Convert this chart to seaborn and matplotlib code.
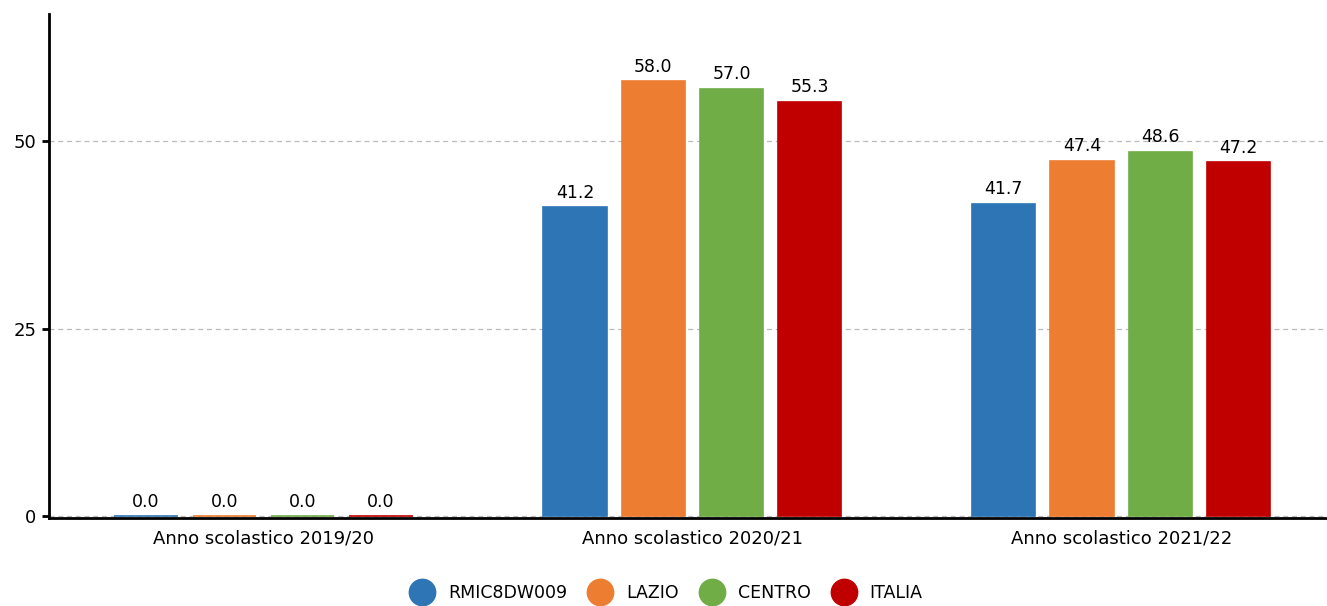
import pandas as pd
import numpy as np
import matplotlib.pyplot as plt
import seaborn as sns
from matplotlib.lines import Line2D

# data
anni = ['Anno scolastico 2019/20', 'Anno scolastico 2020/21', 'Anno scolastico 2021/22']
serie = ['RMIC8DW009', 'LAZIO', 'CENTRO', 'ITALIA']
rmic = [0.0, 41.2, 41.7]
lazio = [0.0, 58.0, 47.4]
centro = [0.0, 57.0, 48.6]
italia = [0.0, 55.3, 47.2]
colori = ['#2E75B6', '#ED7D31', '#70AD47', '#C00000']

df = pd.DataFrame({
    'anno': anni * 4,
    'serie': np.repeat(serie, 3),
    'valore': rmic + lazio + centro + italia,
})

sns.set_style('white')
plt.rcParams['font.family'] = ['DejaVu Sans']
plt.rcParams['text.color'] = 'black'
plt.rcParams['xtick.color'] = 'black'
plt.rcParams['ytick.color'] = 'black'

fig = plt.figure(figsize=(13.27, 6.06), dpi=100)
ax = fig.add_axes([0.037, 0.145, 0.963, 0.832])

sns.barplot(data=df, x='anno', y='valore', hue='serie', hue_order=serie,
            palette=colori, saturation=1, width=0.73, gap=0.19, ax=ax,
            legend=False, linewidth=1.2, zorder=3)
for bars, c in zip(ax.containers, colori):
    for b in bars:
        b.set_edgecolor(c)
    ax.bar_label(bars, fmt='%.1f', padding=4, fontsize=12.5)

ax.set_ylim(-0.25, 67)
ax.set_xlim(-0.5, 2.48)
ax.set_yticks([0, 25, 50])
ax.yaxis.grid(True, linestyle=(0, (4, 3)), color='#bbbbbb', linewidth=0.9)
ax.set_axisbelow(True)
ax.set_xlabel('')
ax.set_ylabel('')
for s in ['top', 'right']:
    ax.spines[s].set_visible(False)
for s in ['left', 'bottom']:
    ax.spines[s].set_linewidth(2)
    ax.spines[s].set_color('black')
ax.tick_params(axis='y', length=5, width=2, labelsize=13, pad=4, left=True)
ax.tick_params(axis='x', length=0, labelsize=13, pad=8)

handles = [Line2D([], [], marker='o', linestyle='', markersize=19,
                  markerfacecolor=c, markeredgecolor=c) for c in colori]
fig.legend(handles, serie, loc='center', bbox_to_anchor=(0.5, 0.022), ncol=4,
           frameon=False, fontsize=12.5, handletextpad=0.5, columnspacing=0.9)

fig.savefig('out.png', dpi=100)
